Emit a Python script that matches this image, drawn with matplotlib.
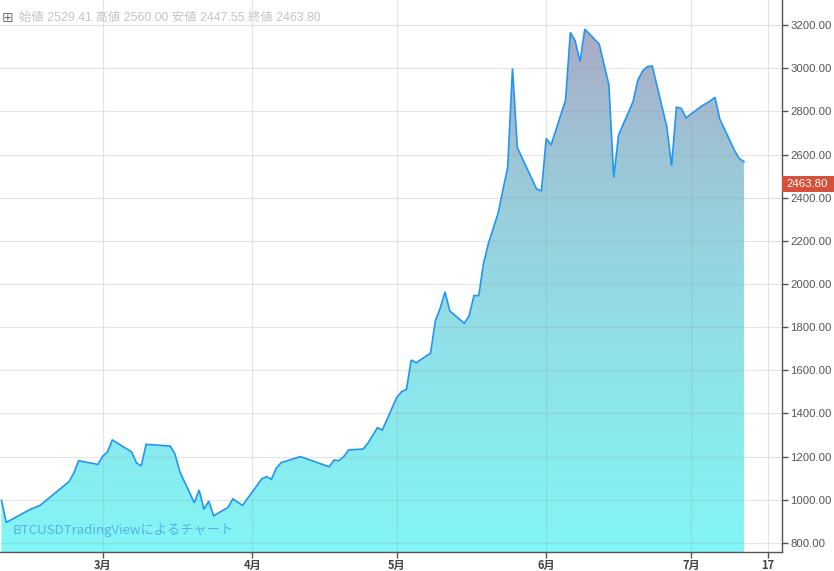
import matplotlib
matplotlib.use('Agg')
import matplotlib.pyplot as plt
import matplotlib.dates as mdates
import matplotlib.transforms as mtransforms
from matplotlib.colors import LinearSegmentedColormap
from matplotlib.patches import Polygon, Rectangle
import numpy as np
import pandas as pd

# ---- data ----
dates = ["2017-02-08", "2017-02-09", "2017-02-14", "2017-02-16", "2017-02-22", "2017-02-23",
         "2017-02-24", "2017-02-28", "2017-03-01", "2017-03-02", "2017-03-03", "2017-03-07",
         "2017-03-08", "2017-03-09", "2017-03-10", "2017-03-15", "2017-03-16", "2017-03-17",
         "2017-03-20", "2017-03-21", "2017-03-22", "2017-03-23", "2017-03-24", "2017-03-27",
         "2017-03-28", "2017-03-30", "2017-04-03", "2017-04-04", "2017-04-05", "2017-04-06",
         "2017-04-07", "2017-04-11", "2017-04-17", "2017-04-18", "2017-04-19", "2017-04-20",
         "2017-04-21", "2017-04-24", "2017-04-25", "2017-04-27", "2017-04-28", "2017-05-01",
         "2017-05-02", "2017-05-03", "2017-05-04", "2017-05-05", "2017-05-08", "2017-05-09",
         "2017-05-10", "2017-05-11", "2017-05-12", "2017-05-15", "2017-05-16", "2017-05-17",
         "2017-05-18", "2017-05-19", "2017-05-20", "2017-05-22", "2017-05-23", "2017-05-24",
         "2017-05-25", "2017-05-26", "2017-05-30", "2017-05-31", "2017-06-01", "2017-06-02",
         "2017-06-05", "2017-06-06", "2017-06-07", "2017-06-08", "2017-06-09", "2017-06-12",
         "2017-06-14", "2017-06-15", "2017-06-16", "2017-06-19", "2017-06-20", "2017-06-21",
         "2017-06-22", "2017-06-23", "2017-06-26", "2017-06-27", "2017-06-28", "2017-06-29",
         "2017-06-30", "2017-07-03", "2017-07-05", "2017-07-06", "2017-07-07", "2017-07-10",
         "2017-07-11", "2017-07-12"]
prices = [997, 895, 956, 974, 1084, 1123,
          1181, 1164, 1202, 1222, 1277, 1222,
          1171, 1157, 1257, 1249, 1211, 1130,
          986, 1045, 956, 994, 926, 965,
          1004, 974, 1097, 1107, 1095, 1146,
          1172, 1200, 1153, 1184, 1181, 1200,
          1231, 1235, 1262, 1334, 1323, 1475,
          1501, 1512, 1648, 1635, 1679, 1830,
          1887, 1964, 1875, 1818, 1852, 1946,
          1946, 2096, 2188, 2327, 2435, 2540,
          2999, 2632, 2440, 2432, 2675, 2644,
          2852, 3166, 3127, 3030, 3181, 3111,
          2922, 2494, 2690, 2845, 2945, 2988,
          3007, 3010, 2729, 2548, 2819, 2814,
          2770, 2821, 2848, 2865, 2764, 2621,
          2582, 2567]

y_ticks = [800, 1000, 1200, 1400, 1600, 1800, 2000, 2200, 2400, 2600, 2800, 3000, 3200]
x_tick_dates = ["2017-03-01", "2017-04-01", "2017-05-01", "2017-06-01", "2017-07-01", "2017-07-17"]
x_tick_labels = ["3月", "4月", "5月", "6月", "7月", "17"]

ohlc_labels = ["始値", "高値", "安値", "終値"]
ohlc_values = [2529.41, 2560.00, 2447.55, 2463.80]
last_close = ohlc_values[3]
watermark = "BTCUSDTradingViewによるチャート"

# ---- figure ----
W, H = 834, 571
fig = plt.figure(figsize=(W / 100, H / 100), dpi=100)
fig.patch.set_facecolor('white')
ax = fig.add_axes([0, 19 / H, 782 / W, 1 - 19 / H])
ax.set_facecolor('white')

x = mdates.date2num(pd.to_datetime(dates))
y = np.array(prices, dtype=float)

mar1 = mdates.date2num(pd.Timestamp("2017-03-01"))
x0, x1 = mar1 - 21.3, mar1 + 140.9
y0, y1 = 758, 3316

# gradient fill
cmap = LinearSegmentedColormap.from_list(
    'tv', [(0.0, '#82f6f6'), (0.45, '#92dde6'), (0.75, '#9cc6d6'), (1.0, '#aaaac6')])
grad = np.linspace(0, 1, 256).reshape(-1, 1)
img = ax.imshow(grad, extent=[x0, x1, y0, y.max()], origin='lower', aspect='auto',
                cmap=cmap, zorder=1, interpolation='bicubic')
poly_xy = np.vstack([np.column_stack([x, y]), [[x[-1], y0], [x[0], y0]]])
poly = Polygon(poly_xy, closed=True, facecolor='none', edgecolor='none',
               transform=ax.transData)
ax.add_patch(poly)
img.set_clip_path(poly)
ax.set_xlim(x0, x1)
ax.set_ylim(y0, y1)

ax.plot(x, y, color='#2196f3', lw=1.2, zorder=3, solid_joinstyle='miter')

# grid
gx = mdates.date2num(pd.to_datetime(x_tick_dates))
for v in y_ticks:
    ax.axhline(v, color='#9a9a9a', lw=0.8, alpha=0.25, zorder=2)
for v in gx:
    ax.axvline(v, color='#9a9a9a', lw=0.8, alpha=0.25, zorder=2)

# axes styling
for s in ['top', 'left']:
    ax.spines[s].set_visible(False)
for s in ['right', 'bottom']:
    ax.spines[s].set_color('#555555')
    ax.spines[s].set_linewidth(1.0)
ax.yaxis.tick_right()
ax.set_yticks(y_ticks)
ax.set_yticklabels([f"{v:.2f}" for v in y_ticks])
ax.set_xticks(gx)
ax.set_xticklabels(x_tick_labels)
ax.tick_params(axis='y', colors='#555555', length=4, width=1, pad=2, labelsize=8.2)
ax.tick_params(axis='x', colors='#555555', length=4, width=1, pad=1, labelsize=8)
for lab in ax.get_yticklabels():
    lab.set_fontfamily(['Liberation Sans', 'DejaVu Sans'])
    lab.set_color('#555555')
for lab in ax.get_xticklabels():
    lab.set_fontfamily(['Noto Sans CJK JP', 'DejaVu Sans'])
    lab.set_color('#444444')
    lab.set_fontweight('bold')

# last price label
tr = mtransforms.blended_transform_factory(fig.transFigure, ax.transData)
hh = 8 / 0.2158
fig.patches.append(Rectangle((782 / W, last_close - hh), 52 / W, 2 * hh,
                             transform=tr, facecolor='#d7503c', edgecolor='none',
                             zorder=5, figure=fig))
fig.text(786 / W, last_close, f"{last_close:.2f}", transform=tr, color='white',
         fontsize=8.2, family=['Liberation Sans', 'DejaVu Sans'],
         va='center', ha='left', zorder=6)

# OHLC legend
fig.text(2 / W, 1 - 18 / H, "⊞", family='DejaVu Sans', fontsize=10, color='#777777',
         va='center', ha='left')
legend = " ".join(f"{n} {v:.2f}" for n, v in zip(ohlc_labels, ohlc_values))
fig.text(19 / W, 1 - 18 / H, legend, family=['Liberation Sans', 'Noto Sans CJK JP'],
         fontsize=8.9, color='#c4c4c4', va='center', ha='left')

# watermark
ax.text(13 / 782, (552 - 530) / 552, watermark, transform=ax.transAxes,
        family=['Noto Sans CJK JP', 'DejaVu Sans'], fontsize=9.5, color='#58b2e2',
        va='center', ha='left', zorder=4)

fig.savefig('out.png', dpi=100)
